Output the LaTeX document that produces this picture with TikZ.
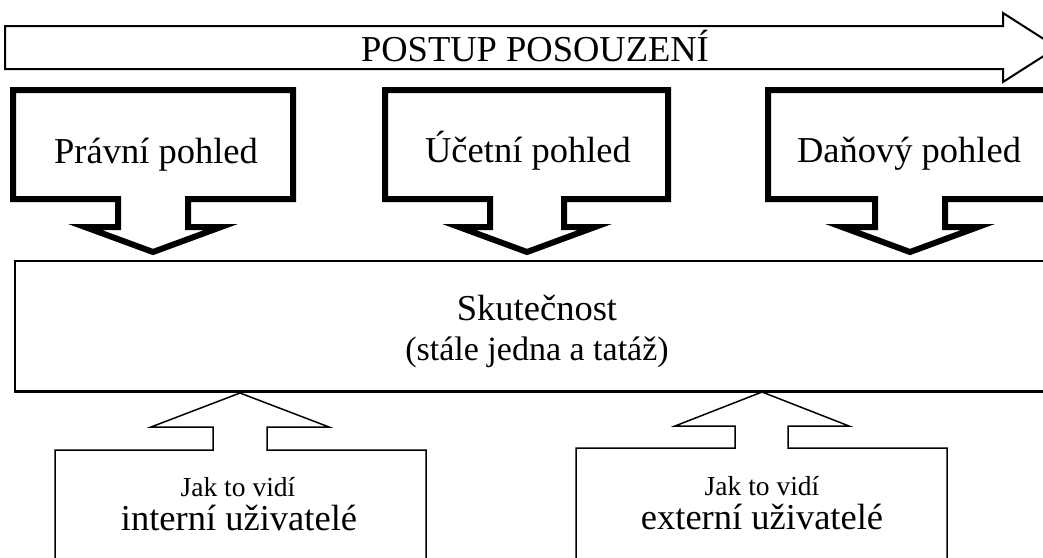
\documentclass[tikz,border=0pt]{standalone}
\usepackage{fontspec}
\setmainfont{Liberation Serif}
\tikzset{
  bigtxt/.style={font=\fontsize{36.5}{40}\selectfont, anchor=base, inner sep=0pt},
  midtxt/.style={font=\fontsize{34}{38}\selectfont, anchor=base, inner sep=0pt},
  smalltxt/.style={font=\fontsize{27.5}{30}\selectfont, anchor=base, inner sep=0pt},
  heavyarrow/.style={line width=6pt, line join=miter},
  thinarrow/.style={line width=1.5pt, line join=miter},
  mainbox/.style={line width=2.5pt},
  flowarrow/.style={line width=2pt, line join=miter},
}
\begin{document}
\begin{tikzpicture}[x=1pt,y=-1pt]
\useasboundingbox (0,0) rectangle (1043,557);
\clip (0,0) rectangle (1043,557);
\fill[white] (0,0) rectangle (1043,557);
% process arrow
\draw[flowarrow] (5,26) -- (1003,26) -- (1003,13) -- (1057,47.5) -- (1003,82) -- (1003,69) -- (5,69) -- cycle;
\node[bigtxt] (postup) at (535,61) {POSTUP POSOUZENÍ};
% top view boxes (down arrows)
\foreach \cx/\L/\R/\s in {153/13/293/35, 527/385/668/37, 910/768/1052/35}{
  \draw[heavyarrow] (\L,90) -- (\R,90) -- (\R,199) -- (\cx+\s,199) -- (\cx+\s,227)
     -- (\cx+68,227) -- (\cx,252) -- (\cx-68,227) -- (\cx-\s,227) -- (\cx-\s,199)
     -- (\L,199) -- cycle;
}
\node[bigtxt] (pravni) at (156,163) {Právní pohled};
\node[bigtxt] (ucetni) at (528,162) {Účetní pohled};
\node[bigtxt] (danovy) at (909,162) {Daňový pohled};
% reality box
\draw[mainbox] (15,261) rectangle (1060,391.5);
\node[bigtxt] (skut) at (537,320) {Skutečnost};
\node[midtxt] (stale) at (537,360) {(stále jedna a tatáž)};
% bottom user boxes (up arrows)
\draw[thinarrow] (55,570) -- (55,450) -- (213,450) -- (213,427) -- (151,427) -- (240,393)
   -- (329,427) -- (267,427) -- (267,450) -- (426,450) -- (426,570);
\draw[thinarrow] (576,570) -- (576,448) -- (735,448) -- (735,426) -- (675,426) -- (762,392)
   -- (849,426) -- (788,426) -- (788,448) -- (947,448) -- (947,570);
\node[smalltxt] (jak1) at (238,496) {Jak to vidí};
\node[bigtxt] (interni) at (239,530) {interní uživatelé};
\node[smalltxt] (jak2) at (762,495) {Jak to vidí};
\node[bigtxt] (externi) at (762,529) {externí uživatelé};
\end{tikzpicture}
\end{document}
